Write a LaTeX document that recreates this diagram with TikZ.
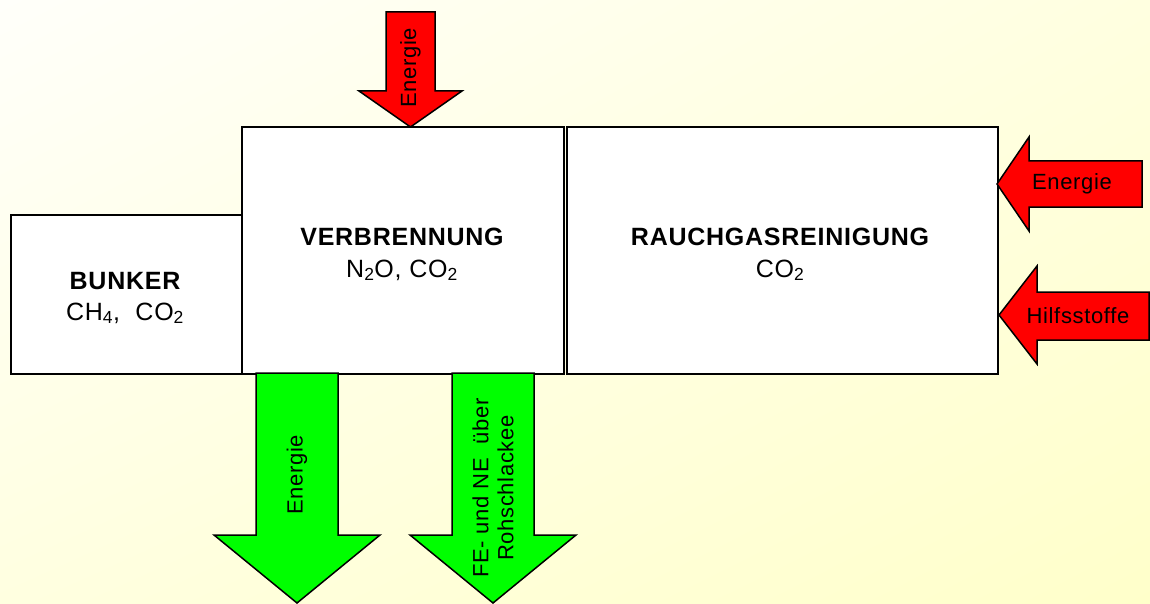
\documentclass[tikz,border=0pt]{standalone}
\usepackage{fontspec}
\setmainfont{Liberation Sans}[LetterSpace=3]
\usetikzlibrary{shadings}
\definecolor{bgA}{RGB}{255,255,250}
\definecolor{bgB}{RGB}{255,255,224}
\definecolor{bgC}{RGB}{255,255,202}
\definecolor{arrred}{RGB}{255,0,0}
\definecolor{arrgreen}{RGB}{0,255,0}
\begin{document}
\begin{tikzpicture}[x=1pt,y=-1pt,
  box/.style={draw=black, line width=2pt, fill=white, inner sep=0pt, anchor=north west},
  redarrow/.style={draw=black, line width=1.5pt, fill=arrred, line join=miter},
  greenarrow/.style={draw=black, line width=1.5pt, fill=arrgreen, line join=miter},
  title/.style={font=\fontsize{25}{30}\selectfont\bfseries, anchor=base, inner sep=0pt},
  formula/.style={font=\fontsize{25}{30}\selectfont, anchor=base, inner sep=0pt},
  lbl/.style={font=\fontsize{22}{25}\selectfont, inner sep=0pt, align=center}]
\useasboundingbox (0,0) rectangle (1150,604);
\shade[upper left=bgA, upper right=bgB, lower left=bgB, lower right=bgC] (0,0) rectangle (1150,604);

% boxes
\node[box, minimum width=231pt, minimum height=159pt] (bunker) at (10,214) {};
\node[box, minimum width=322pt, minimum height=247pt] (verb) at (241,126) {};
\node[box, minimum width=431pt, minimum height=247pt] (rauch) at (566,126) {};

% texts in boxes
\node[title] (bunkerT) at (125,289) {BUNKER};
\node[formula] (bunkerF) at (125,320) {CH\textsubscript{4},\ \ CO\textsubscript{2}};
\node[title] (verbT) at (402,245) {VERBRENNUNG};
\node[formula] (verbF) at (402,277) {N\textsubscript{2}O, CO\textsubscript{2}};
\node[title] (rauchT) at (780,245) {RAUCHGASREINIGUNG};
\node[formula] (rauchF) at (780,277) {CO\textsubscript{2}};

% top red arrow into Verbrennung
\coordinate (tipTop) at (410.5,127);
\draw[redarrow] (386,12) -- (435,12) -- (435,91) -- (462,91) -- (tipTop) -- (359,91) -- (386,91) -- cycle;
\node[lbl, rotate=90] (eTop) at (410.5,68) {Energie};

% right red arrows into Rauchgasreinigung
\coordinate (tipE) at (997,184);
\draw[redarrow] (1142,161) -- (1142,207) -- (1029,207) -- (1029,231) -- (tipE) -- (1029,137) -- (1029,161) -- cycle;
\node[lbl] (eRight) at (1072,184) {Energie};

\coordinate (tipH) at (999,315);
\draw[redarrow] (1149,292) -- (1149,340) -- (1037,340) -- (1037,364) -- (tipH) -- (1037,266) -- (1037,292) -- cycle;
\node[lbl] (hRight) at (1078,316) {Hilfsstoffe};

% green arrows out of Verbrennung
\coordinate (tipG1) at (297,603);
\draw[greenarrow] (256,373) -- (338,373) -- (338,535) -- (380,535) -- (tipG1) -- (214,535) -- (256,535) -- cycle;
\node[lbl, rotate=90] (eOut) at (297,475) {Energie};

\coordinate (tipG2) at (493,603);
\draw[greenarrow] (452,373) -- (534,373) -- (534,535) -- (576,535) -- (tipG2) -- (410,535) -- (452,535) -- cycle;
\node[lbl, rotate=90] (feOut) at (493,488) {FE- und NE\ \ über\\Rohschlackee};
\end{tikzpicture}
\end{document}
